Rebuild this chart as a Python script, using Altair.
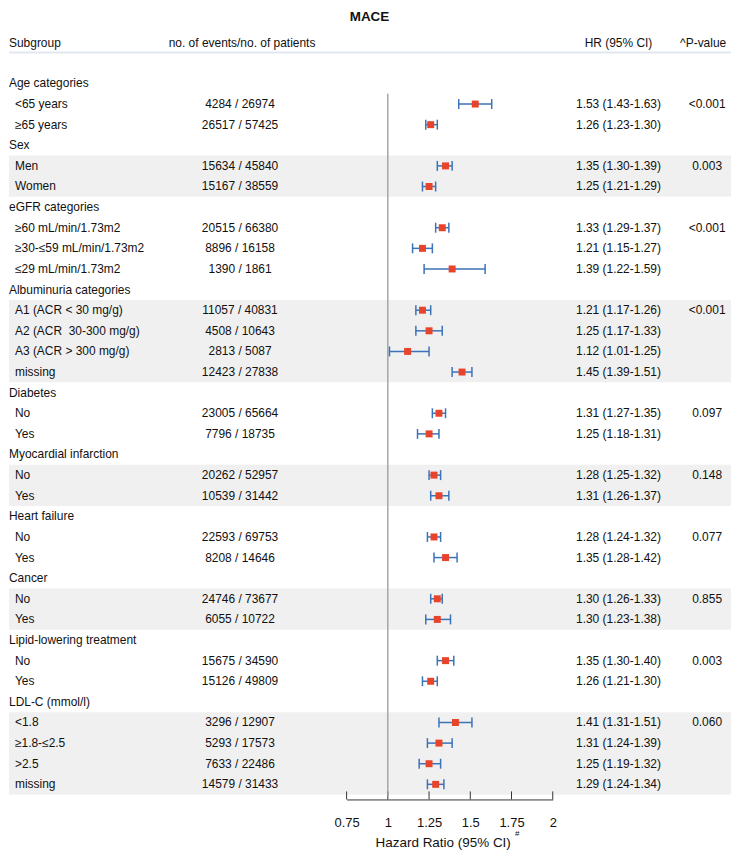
import altair as alt
import pandas as pd

chart_title = "MACE"
header_labels = ["Subgroup", "no. of events/no. of patients", "HR (95% CI)", "^P-value"]
axis_title = "Hazard Ratio (95% CI)"
axis_title_sup = "#"

groups = ["Age categories", "Sex", "eGFR categories", "Albuminuria categories", "Diabetes",
          "Myocardial infarction", "Heart failure", "Cancer", "Lipid-lowering treatment", "LDL-C (mmol/l)"]
subgroups = [
    ["<65 years", "≥65 years"],
    ["Men", "Women"],
    ["≥60 mL/min/1.73m2", "≥30-≤59 mL/min/1.73m2", "≤29 mL/min/1.73m2"],
    ["A1 (ACR < 30 mg/g)", "A2 (ACR\u00a0 30-300 mg/g)", "A3 (ACR > 300 mg/g)", "missing"],
    ["No", "Yes"],
    ["No", "Yes"],
    ["No", "Yes"],
    ["No", "Yes"],
    ["No", "Yes"],
    ["<1.8", "≥1.8-≤2.5", ">2.5", "missing"],
]
events = [4284, 26517, 15634, 15167, 20515, 8896, 1390, 11057, 4508, 2813, 12423, 23005, 7796,
          20262, 10539, 22593, 8208, 24746, 6055, 15675, 15126, 3296, 5293, 7633, 14579]
patients = [26974, 57425, 45840, 38559, 66380, 16158, 1861, 40831, 10643, 5087, 27838, 65664, 18735,
            52957, 31442, 69753, 14646, 73677, 10722, 34590, 49809, 12907, 17573, 22486, 31433]
hr = [1.53, 1.26, 1.35, 1.25, 1.33, 1.21, 1.39, 1.21, 1.25, 1.12, 1.45, 1.31, 1.25,
      1.28, 1.31, 1.28, 1.35, 1.30, 1.30, 1.35, 1.26, 1.41, 1.31, 1.25, 1.29]
ci_lo = [1.43, 1.23, 1.30, 1.21, 1.29, 1.15, 1.22, 1.17, 1.17, 1.01, 1.39, 1.27, 1.18,
         1.25, 1.26, 1.24, 1.28, 1.26, 1.23, 1.30, 1.21, 1.31, 1.24, 1.19, 1.24]
ci_hi = [1.63, 1.30, 1.39, 1.29, 1.37, 1.27, 1.59, 1.26, 1.33, 1.25, 1.51, 1.35, 1.31,
         1.32, 1.37, 1.32, 1.42, 1.33, 1.38, 1.40, 1.30, 1.51, 1.39, 1.32, 1.34]
p_values = ["<0.001", "0.003", "<0.001", "<0.001", "0.097", "0.148", "0.077", "0.855", "0.003", "0.060"]
x_ticks = [0.75, 1, 1.25, 1.5, 1.75, 2]

# ---- build tables ----
group_rows, sub_rows, bands = [], [], []
r, k = 0, 0
for gi, (g, subs) in enumerate(zip(groups, subgroups)):
    group_rows.append({"label": g, "row": r})
    r += 1
    start = r
    for si, s in enumerate(subs):
        sub_rows.append({
            "label": s, "row": r,
            "events": f"{events[k]} / {patients[k]}",
            "hr": hr[k], "lo": ci_lo[k], "hi": ci_hi[k],
            "hrtext": f"{hr[k]:.2f} ({ci_lo[k]:.2f}-{ci_hi[k]:.2f})",
            "p": p_values[gi] if si == 0 else "",
        })
        r += 1
        k += 1
    if gi % 2 == 1:
        bands.append({"y0": start - 0.5, "y1": r - 0.5})

gdf = pd.DataFrame(group_rows)
sdf = pd.DataFrame(sub_rows)
bdf = pd.DataFrame(bands)
tdf = pd.DataFrame({"x": x_ticks})

W = 725
H = 793
ROW_TOP = -3.575
ROW_BOTTOM = 34.734
yscale = alt.Scale(domain=[ROW_TOP, ROW_BOTTOM], reverse=True, nice=False, zero=False)
xscale = alt.Scale(domain=[0.75, 2], range=[339, 546], nice=False, zero=False)
FONT = "Liberation Sans"
TXT = "#111111"
BLUE = "#3B73B9"
RED = "#E8442B"

xaxis = alt.Axis(values=x_ticks, ticks=False, format=".4~g", domainColor="#333333",
                 labelFont=FONT, labelFontSize=13, labelColor=TXT, labelPadding=17, labelFlush=False,
                 title=axis_title, titleFont=FONT, titleFontSize=13.5, titleFontWeight="normal",
                 titleColor=TXT, titlePadding=6, titleX=435.5, grid=False)


def ydat(v):
    return alt.YDatum(datum=v, type="quantitative", scale=yscale, axis=None)


def xf(field):
    return alt.X(field, type="quantitative", scale=xscale, axis=xaxis, title=axis_title)


def yrow():
    return alt.Y("row:Q", scale=yscale, axis=None)


base = alt.Chart(sdf)
one = pd.DataFrame({"a": [0]})

bands_layer = alt.Chart(bdf).mark_rect(color="#f0f0f0").encode(
    x=alt.value(0), x2=alt.value(W),
    y=alt.Y("y0:Q", scale=yscale, axis=None), y2="y1:Q")

header_line = alt.Chart(one).mark_rule(color="#e1e7f0", strokeWidth=2).encode(
    x=alt.value(0), x2=alt.value(W), y=ydat(-1.5))

axis_ticks = alt.Chart(tdf).mark_rule(color="#333333", strokeWidth=1).encode(
    x=xf("x"), y=ydat(ROW_BOTTOM - 0.39), y2=alt.Y2Datum(datum=ROW_BOTTOM))

ref_line = alt.Chart(pd.DataFrame({"ref": [1.0]})).mark_rule(color="#9a9a9a", strokeWidth=1.3).encode(
    x=xf("ref"), y=ydat(0.5), y2=alt.Y2Datum(datum=ROW_BOTTOM - 0.15))

err = base.mark_rule(color=BLUE, strokeWidth=1.5).encode(x=xf("lo"), x2="hi:Q", y=yrow())
cap_lo = base.mark_tick(color=BLUE, orient="vertical", size=10, thickness=1.5, opacity=1).encode(
    x=xf("lo"), y=yrow())
cap_hi = base.mark_tick(color=BLUE, orient="vertical", size=10, thickness=1.5, opacity=1).encode(
    x=xf("hi"), y=yrow())
pts = base.mark_square(color=RED, size=49, opacity=1).encode(x=xf("hr"), y=yrow())

tkw = dict(font=FONT, fontSize=12, color=TXT, baseline="middle")
grp_text = alt.Chart(gdf).mark_text(align="left", **tkw).encode(
    x=alt.value(0), y=yrow(), text="label:N")
sub_text = base.mark_text(align="left", **tkw).encode(x=alt.value(6), y=yrow(), text="label:N")
ev_text = base.mark_text(align="center", **tkw).encode(x=alt.value(232), y=yrow(), text="events:N")
hr_text = base.mark_text(align="center", **tkw).encode(x=alt.value(612), y=yrow(), text="hrtext:N")
p_text = base.mark_text(align="center", **tkw).encode(x=alt.value(701), y=yrow(), text="p:N")

title_layer = alt.Chart(one).mark_text(align="center", font=FONT, fontSize=13.5, fontWeight="bold",
                                       color=TXT, baseline="middle").encode(
    x=alt.value(362), y=ydat(-3.22), text=alt.value(chart_title))
h1 = alt.Chart(one).mark_text(align="left", **tkw).encode(x=alt.value(0), y=ydat(-1.98), text=alt.value(header_labels[0]))
h2 = alt.Chart(one).mark_text(align="center", **tkw).encode(x=alt.value(234), y=ydat(-1.98), text=alt.value(header_labels[1]))
h3 = alt.Chart(one).mark_text(align="center", **tkw).encode(x=alt.value(612), y=ydat(-1.98), text=alt.value(header_labels[2]))
h4 = alt.Chart(one).mark_text(align="center", **tkw).encode(x=alt.value(697), y=ydat(-1.98), text=alt.value(header_labels[3]))
sup = alt.Chart(one).mark_text(align="left", font=FONT, fontSize=8, color=TXT, baseline="middle").encode(
    x=alt.value(508), y=alt.value(828), text=alt.value(axis_title_sup))

chart = alt.layer(
    bands_layer, header_line, axis_ticks, ref_line, err, cap_lo, cap_hi, pts,
    grp_text, sub_text, ev_text, hr_text, p_text, title_layer, h1, h2, h3, h4, sup
).properties(width=W, height=H, padding=0).configure_view(stroke=None)

chart.save("out.html", embed_options={"renderer": "svg", "actions": False})
